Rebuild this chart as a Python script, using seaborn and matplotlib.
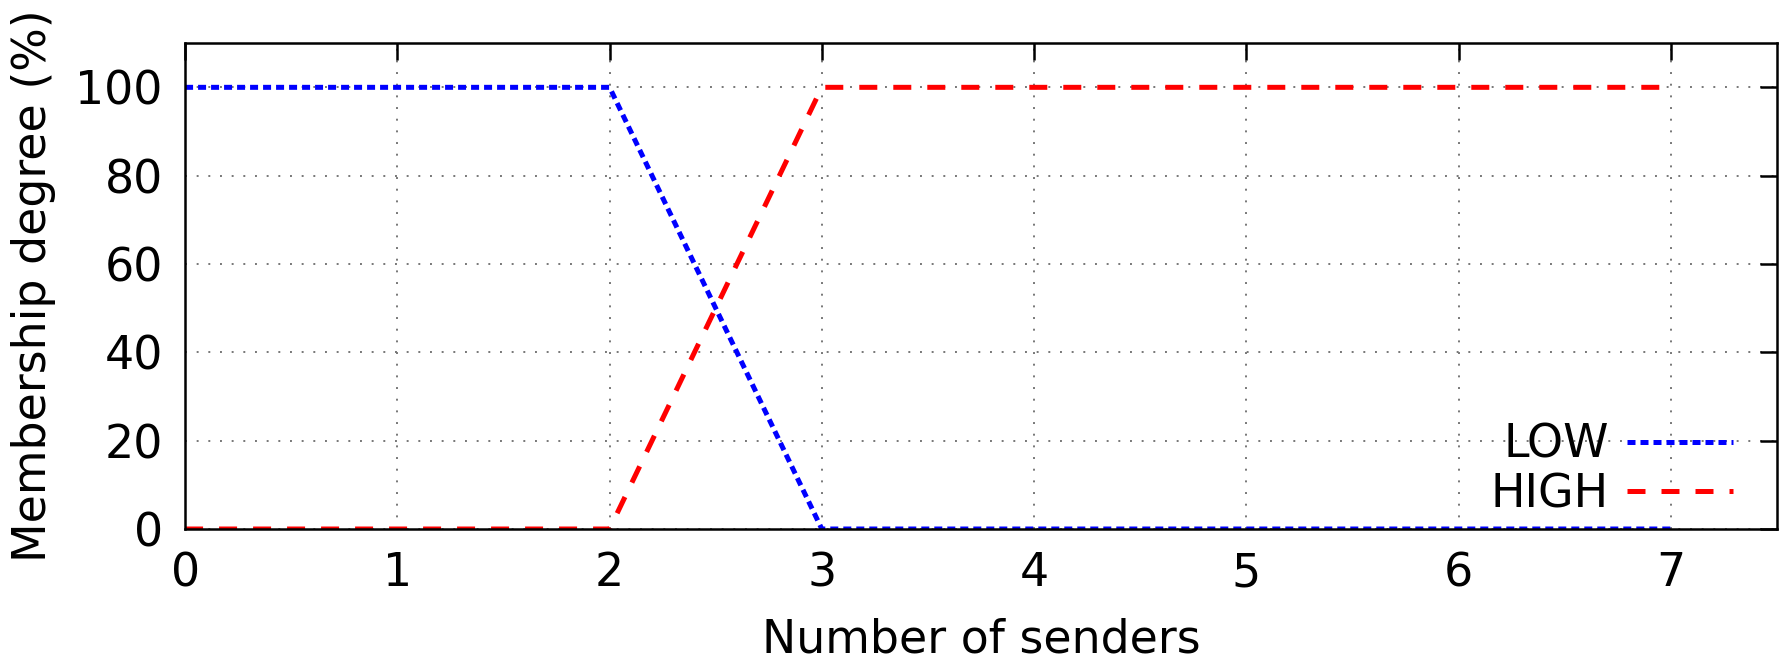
import pandas as pd
import matplotlib
matplotlib.use('Agg')
import matplotlib.pyplot as plt
import seaborn as sns

senders = [0, 2, 3, 7]
low = [100, 100, 0, 0]
high = [0, 0, 100, 100]
series_names = ['LOW', 'HIGH']
x_ticks = [0, 1, 2, 3, 4, 5, 6, 7]
y_ticks = [0, 20, 40, 60, 80, 100]


def build_frame():
    low_df = pd.DataFrame({'senders': senders, 'degree': low, 'set': 'LOW'})
    high_df = pd.DataFrame({'senders': senders, 'degree': high, 'set': 'HIGH'})
    return pd.concat([low_df, high_df], ignore_index=True)


def main():
    sns.set_style('white')
    plt.rcParams['font.family'] = ['DejaVu Sans']
    plt.rcParams['text.color'] = 'black'
    plt.rcParams['axes.labelcolor'] = 'black'

    df = build_frame()

    fig = plt.figure(figsize=(17.83, 6.64), dpi=100)
    ax = fig.add_axes([0.1038, 0.2033, 0.8928, 0.7317])

    sns.lineplot(data=df, x='senders', y='degree', hue='set', style='set',
                 hue_order=series_names, style_order=series_names,
                 palette={'LOW': '#0000ff', 'HIGH': '#ff0000'},
                 dashes={'LOW': (1.6, 1.0), 'HIGH': (3.6, 3.2)},
                 linewidth=3.6, ax=ax, legend=True)

    ax.set_xlim(0, 7.5)
    ax.set_ylim(0, 110)
    ax.set_xticks(x_ticks)
    ax.set_yticks(y_ticks)

    ax.grid(True, color='#777777', linestyle=(0, (1, 5)), linewidth=1.4)
    ax.tick_params(direction='in', length=12, width=1.8, top=True, right=True,
                   labelsize=33, colors='black', pad=16)
    for sp in ax.spines.values():
        sp.set_color('black')
        sp.set_linewidth(1.8)

    ax.set_xlabel('Number of senders', fontsize=33, labelpad=15, color='black')
    ax.set_ylabel('Membership degree (%)', fontsize=33, labelpad=14, color='black')

    handles, labels = ax.get_legend_handles_labels()
    leg = ax.legend(handles, labels, loc='lower right', frameon=False, fontsize=33,
                    markerfirst=False, handlelength=2.3, handletextpad=0.4,
                    labelspacing=0.1, borderaxespad=0.6, bbox_to_anchor=(1.001, -0.07))
    for t in leg.get_texts():
        t.set_color('black')

    fig.savefig('out.png', dpi=100)


if __name__ == "__main__":
    main()
